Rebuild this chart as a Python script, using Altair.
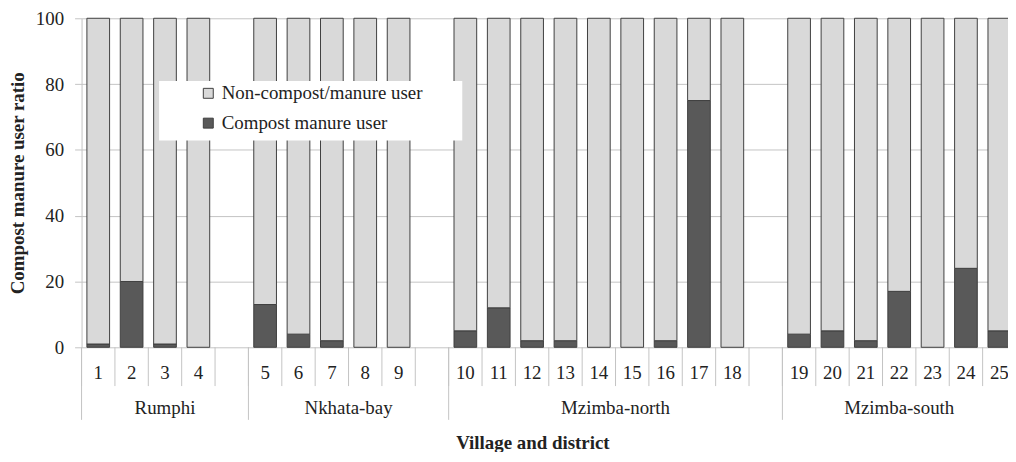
import altair as alt
import pandas as pd

# ---- data ----
villages = [str(i) for i in range(1, 26)]
districts = (["Rumphi"] * 4 + ["Nkhata-bay"] * 5 +
             ["Mzimba-north"] * 9 + ["Mzimba-south"] * 7)
district_names = ["Rumphi", "Nkhata-bay", "Mzimba-north", "Mzimba-south"]
compost = [1, 20, 1, 0,
           13, 4, 2, 0, 0,
           5, 12, 2, 2, 0, 0, 2, 75, 0,
           4, 5, 2, 17, 0, 24, 5]
series = ["Non-compost/manure user", "Compost manure user"]
colors = ["#d9d9d9", "#595959"]
y_ticks = [0, 20, 40, 60, 80, 100]
x_title = "Village and district"
y_title = "Compost manure user ratio"

FONT = "'Liberation Serif', 'Times New Roman', Times, 'DejaVu Serif', serif"
FS = 19
TXT = "#222222"
LINE = "#c4c4c4"
W, H = 932, 331

# ---- build tables ----
slots = [i + district_names.index(d) for i, d in enumerate(districts)]
rows = []
for v, s, c in zip(villages, slots, compost):
    if c > 0:
        rows.append({"village": v, "slot": s, "type": series[1], "y0": 0, "y1": c})
    rows.append({"village": v, "slot": s, "type": series[0], "y0": c, "y1": 100})
bars = pd.DataFrame(rows)
labels = pd.DataFrame({"village": villages, "slot": slots})

dist_start = [slots[districts.index(d)] for d in district_names]
dist_end = dist_start[1:] + [max(slots) + 1]
dist = pd.DataFrame({"district": district_names, "start": dist_start, "end": dist_end})
bounds = pd.DataFrame({"b": list(range(0, max(slots) + 2))})
dist_bounds = pd.DataFrame({"b": dist_start + [max(slots) + 1]})

xscale = alt.Scale(domain=[0, 27.76], nice=False, zero=False)
yscale = alt.Scale(domain=[0, 100], nice=False)

bar_layer = alt.Chart(bars).transform_calculate(
    xa="datum.slot + 0.16", xb="datum.slot + 0.84"
).mark_bar(stroke="#404040", strokeWidth=1).encode(
    x=alt.X("xa:Q", scale=xscale, axis=None),
    x2="xb:Q",
    y=alt.Y("y0:Q", scale=yscale,
            axis=alt.Axis(values=y_ticks, grid=True, gridColor=LINE,
                          domain=True, domainColor=LINE, tickSize=7,
                          tickColor=LINE, labelFont=FONT, labelFontSize=FS,
                          labelColor=TXT, labelPadding=11,
                          title=y_title, titleFont=FONT,
                          titleFontSize=FS, titleFontWeight="bold",
                          titleColor=TXT, titleX=-64, titleY=H / 2,
                          titleAngle=-90, titleBaseline="middle",
                          titleAlign="center")),
    y2="y1:Q",
    color=alt.Color("type:N", scale=alt.Scale(domain=series, range=colors),
                    legend=alt.Legend(title=None)),
)

legend_bg = alt.Chart(pd.DataFrame({"a": [0]})).mark_rect(fill="white").encode(
    x=alt.value(78), x2=alt.value(383), y=alt.value(63), y2=alt.value(123)
)

sep = alt.Chart(bounds).mark_rule(color=LINE, strokeWidth=1).encode(
    x=alt.X("b:Q", scale=xscale, axis=None),
    y=alt.value(H), y2=alt.value(H + 39),
)
dsep = alt.Chart(dist_bounds).mark_rule(color=LINE, strokeWidth=1).encode(
    x=alt.X("b:Q", scale=xscale, axis=None),
    y=alt.value(H), y2=alt.value(H + 73),
)

vlab = alt.Chart(labels).transform_calculate(xc="datum.slot + 0.5").mark_text(
    font=FONT, fontSize=FS, color=TXT, baseline="middle", align="center"
).encode(x=alt.X("xc:Q", scale=xscale, axis=None), y=alt.value(H + 26), text="village:N")

dlab = alt.Chart(dist).transform_calculate(xc="(datum.start + datum.end) / 2").mark_text(
    font=FONT, fontSize=FS, color=TXT, baseline="middle", align="center"
).encode(x=alt.X("xc:Q", scale=xscale, axis=None), y=alt.value(H + 61), text="district:N")

xtitle = alt.Chart(pd.DataFrame({"t": [x_title]})).mark_text(
    font=FONT, fontSize=FS, fontWeight="bold", color=TXT,
    baseline="middle", align="center"
).encode(x=alt.value(454), y=alt.value(H + 96), text="t:N")

chart = alt.layer(bar_layer, legend_bg, sep, dsep, vlab, dlab, xtitle).properties(
    width=W, height=H,
    autosize=alt.AutoSizeParams(type="none"),
    padding={"left": 74, "top": 9, "right": 0, "bottom": 104},
).configure_view(stroke=None).configure_legend(
    orient="none", legendX=118, legendY=66, padding=0,
    labelFont=FONT, labelFontSize=FS, labelColor=TXT, labelLimit=500,
    symbolType="square", symbolSize=100, symbolStrokeColor="#404040",
    symbolStrokeWidth=1, rowPadding=10, labelOffset=4,
)

chart.save("out.html", embed_options={"renderer": "svg", "actions": False})
